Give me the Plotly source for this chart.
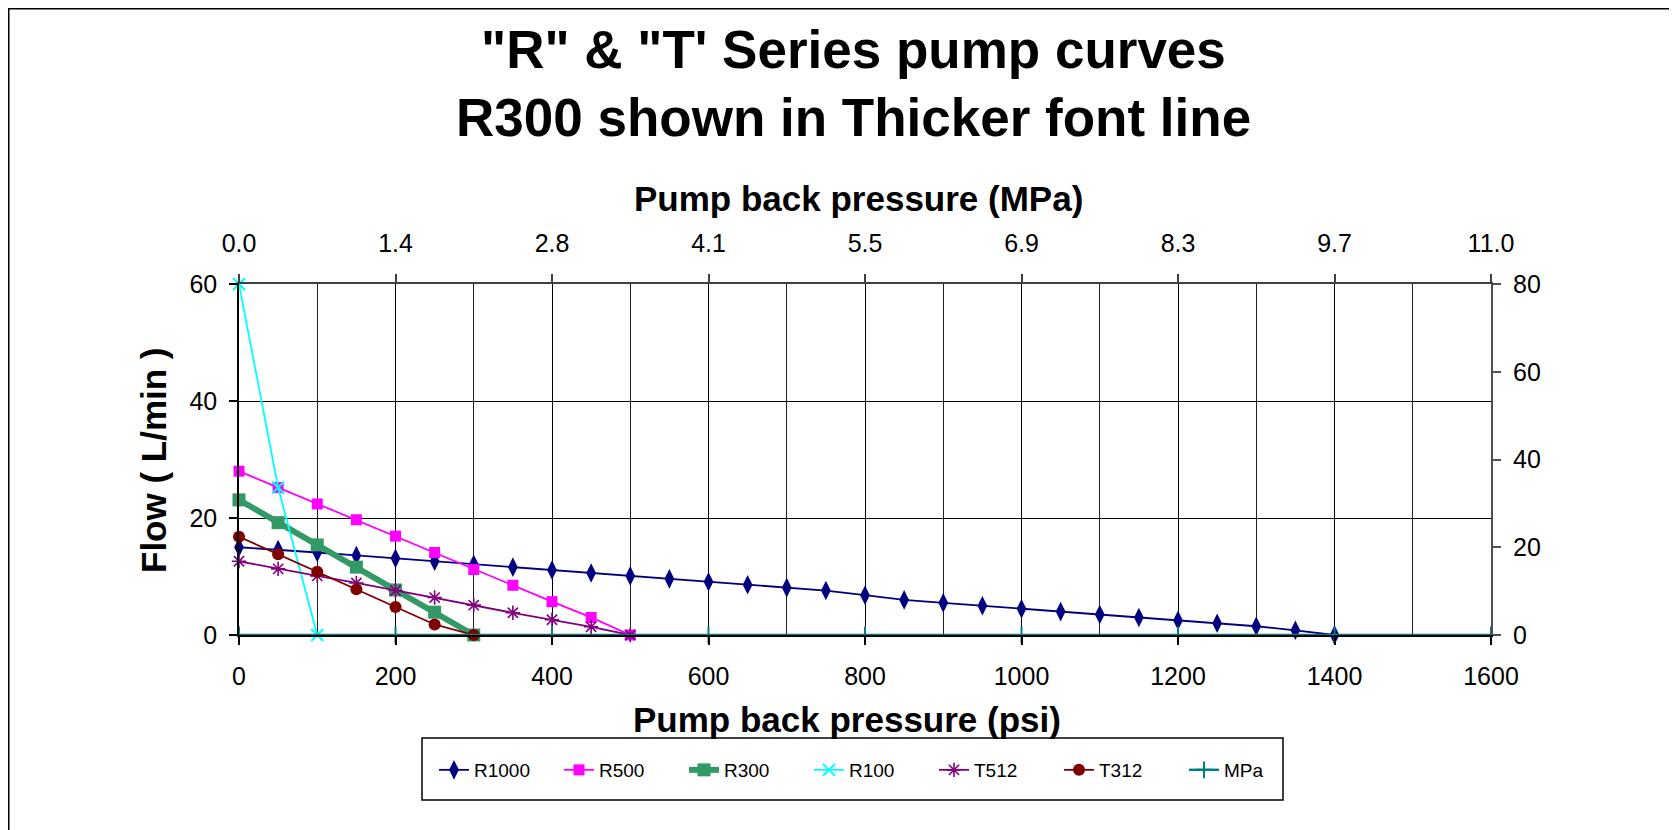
import plotly.graph_objects as go

# ---------------- data ----------------
psi_R1000 = [0, 50, 100, 150, 200, 250, 300, 350, 400, 450, 500, 550, 600, 650, 700,
             750, 800, 850, 900, 950, 1000, 1050, 1100, 1150, 1200, 1250, 1300, 1350, 1400]
flow_R1000 = [15.0, 14.6, 14.1, 13.6, 13.1, 12.6, 12.1, 11.6, 11.1, 10.6, 10.1, 9.6, 9.1, 8.6, 8.1,
              7.6, 6.8, 6.0, 5.5, 5.0, 4.5, 4.0, 3.5, 3.0, 2.5, 2.0, 1.5, 0.8, 0.0]

psi_R500 = [0, 50, 100, 150, 200, 250, 300, 350, 400, 450, 500]
flow_R500 = [28.0, 25.2, 22.4, 19.7, 16.9, 14.1, 11.2, 8.5, 5.7, 3.0, 0.0]

psi_R300 = [0, 50, 100, 150, 200, 250, 300]
flow_R300 = [23.1, 19.2, 15.4, 11.6, 7.7, 3.9, 0.0]

psi_R100 = [0, 50, 100]
flow_R100 = [60.0, 25.2, 0.0]

psi_T512 = [0, 50, 100, 150, 200, 250, 300, 350, 400, 450, 500]
flow_T512 = [12.6, 11.3, 10.1, 8.9, 7.6, 6.4, 5.1, 3.8, 2.6, 1.4, 0.0]

psi_T312 = [0, 50, 100, 150, 200, 250, 300]
flow_T312 = [16.8, 13.8, 10.8, 7.8, 4.8, 1.8, 0.0]

mpa_values = [0.0, 1.379, 2.758, 4.137, 5.516, 6.895, 8.274, 9.653, 11.032]
mpa_flow = [0, 0, 0, 0, 0, 0, 0, 0, 0]
mpa_ticktext = ["0.0", "1.4", "2.8", "4.1", "5.5", "6.9", "8.3", "9.7", "11.0"]

left_ticks = [0, 20, 40, 60]
right_ticks = [0, 20, 40, 60, 80]

# ---------------- layout helpers ----------------
# target coordinates below are screen pixels; the page body adds an 8px offset
OFF = 8
W, H = 1677, 830
PX0, PX1, PY0, PY1 = 239, 1491, 284, 635   # plot area on screen
L = PX0 - OFF
T = PY0 - OFF
R = W - (PX1 - OFF)
B = H - (PY1 - OFF)
PW = PX1 - PX0
PH = PY1 - PY0


def px(x):
    return (x - PX0) / PW


def py(y):
    return (PY1 - y) / PH


FONT = "Arial, Liberation Sans, sans-serif"

fig = go.Figure()

fig.add_trace(go.Scatter(
    x=psi_R1000, y=flow_R1000, name="R1000", mode="lines+markers",
    line=dict(color="#000080", width=1.8),
    marker=dict(symbol="diamond-tall", size=14, color="#000080"), cliponaxis=False))
fig.add_trace(go.Scatter(
    x=psi_R500, y=flow_R500, name="R500", mode="lines+markers",
    line=dict(color="#FF00FF", width=1.8),
    marker=dict(symbol="square", size=11, color="#FF00FF"), cliponaxis=False))
fig.add_trace(go.Scatter(
    x=psi_R300, y=flow_R300, name="R300", mode="lines+markers",
    line=dict(color="#339966", width=6),
    marker=dict(symbol="square", size=13, color="#339966"), cliponaxis=False))
fig.add_trace(go.Scatter(
    x=psi_R100, y=flow_R100, name="R100", mode="lines+markers",
    line=dict(color="#00FFFF", width=1.8),
    marker=dict(symbol="x-thin", size=12, color="#00FFFF",
                line=dict(color="#00FFFF", width=2)), cliponaxis=False))
fig.add_trace(go.Scatter(
    x=psi_T512, y=flow_T512, name="T512", mode="lines+markers",
    line=dict(color="#800080", width=1.8),
    marker=dict(symbol="asterisk", size=12, color="#800080",
                line=dict(color="#800080", width=1.6)), cliponaxis=False))
fig.add_trace(go.Scatter(
    x=psi_T312, y=flow_T312, name="T312", mode="lines+markers",
    line=dict(color="#800000", width=1.8),
    marker=dict(symbol="circle", size=12, color="#800000"), cliponaxis=False))
fig.add_trace(go.Scatter(
    x=mpa_values, y=mpa_flow, name="MPa", mode="lines+markers",
    xaxis="x2", yaxis="y2",
    line=dict(color="#008080", width=2.5),
    marker=dict(symbol="cross-thin", size=12, color="#008080",
                line=dict(color="#008080", width=2)), cliponaxis=False))

tickfont = dict(family=FONT, size=25, color="black")

fig.update_layout(
    width=W, height=H,
    margin=dict(l=L, r=R, t=T, b=B, pad=0),
    paper_bgcolor="white", plot_bgcolor="white",
    font=dict(family=FONT, color="black"),
    showlegend=True,
    legend=dict(orientation="h", x=px(434), xanchor="left", y=py(770), yanchor="middle",
                font=dict(family=FONT, size=19, color="black"),
                bgcolor="rgba(0,0,0,0)", borderwidth=0,
                entrywidth=80, entrywidthmode="pixels", traceorder="normal"),
    xaxis=dict(range=[0, 1600], tickvals=[0, 200, 400, 600, 800, 1000, 1200, 1400, 1600],
               showgrid=True, gridcolor="black", gridwidth=1,
               minor=dict(dtick=100, showgrid=True, gridcolor="#222222", gridwidth=1),
               showline=True, linecolor="black", linewidth=1.5,
               ticks="outside", ticklen=8, tickcolor="black", tickwidth=1.5,
               tickfont=tickfont, ticklabelstandoff=10, zeroline=False),
    xaxis2=dict(range=[0, 11.032], overlaying="x", side="top", anchor="y",
                tickvals=mpa_values, ticktext=mpa_ticktext,
                showgrid=False, showline=True, linecolor="#404040", linewidth=2,
                ticks="outside", ticklen=8, tickcolor="#404040", tickwidth=1.5,
                tickfont=tickfont, ticklabelstandoff=12, zeroline=False),
    yaxis=dict(range=[0, 60], tickvals=left_ticks, showgrid=True, gridcolor="black", gridwidth=1,
               showline=True, linecolor="black", linewidth=1.5,
               ticks="outside", ticklen=8, tickcolor="black", tickwidth=1.5,
               tickfont=tickfont, ticklabelstandoff=7, zeroline=False),
    yaxis2=dict(range=[0, 80], tickvals=right_ticks, overlaying="y", side="right", anchor="x",
                showgrid=False, showline=True, linecolor="#505050", linewidth=2,
                ticks="outside", ticklen=8, tickcolor="#505050", tickwidth=1.5,
                tickfont=tickfont, ticklabelstandoff=7, zeroline=False),
)

annotations = [
    dict(text='<b>"R" &amp; "T\' Series pump curves</b>', x=px(853), y=py(50),
         font=dict(family=FONT, size=53, color="black")),
    dict(text="<b>R300 shown in Thicker font line</b>", x=px(853), y=py(117),
         font=dict(family=FONT, size=53, color="black")),
    dict(text="<b>Pump back pressure (MPa)</b>", x=px(858), y=py(199),
         font=dict(family=FONT, size=35, color="black")),
    dict(text="<b>Pump back pressure (psi)</b>", x=px(847), y=py(719),
         font=dict(family=FONT, size=35, color="black")),
    dict(text="<b>Flow ( L/min )</b>", x=px(153), y=py(460), textangle=-90,
         font=dict(family=FONT, size=35, color="black")),
]
for a in annotations:
    a.update(xref="paper", yref="paper", xanchor="center", yanchor="middle", showarrow=False)
fig.update_layout(annotations=annotations)

fig.update_layout(shapes=[
    dict(type="rect", xref="paper", yref="paper",
         x0=px(8.75), x1=px(1720), y0=py(880), y1=py(8.75),
         line=dict(color="black", width=1.5), fillcolor="rgba(0,0,0,0)", layer="below"),
    dict(type="rect", xref="paper", yref="paper",
         x0=px(422), x1=px(1283), y0=py(800), y1=py(738),
         line=dict(color="black", width=1.5), fillcolor="rgba(0,0,0,0)", layer="below"),
])

fig.write_html("out.html")
